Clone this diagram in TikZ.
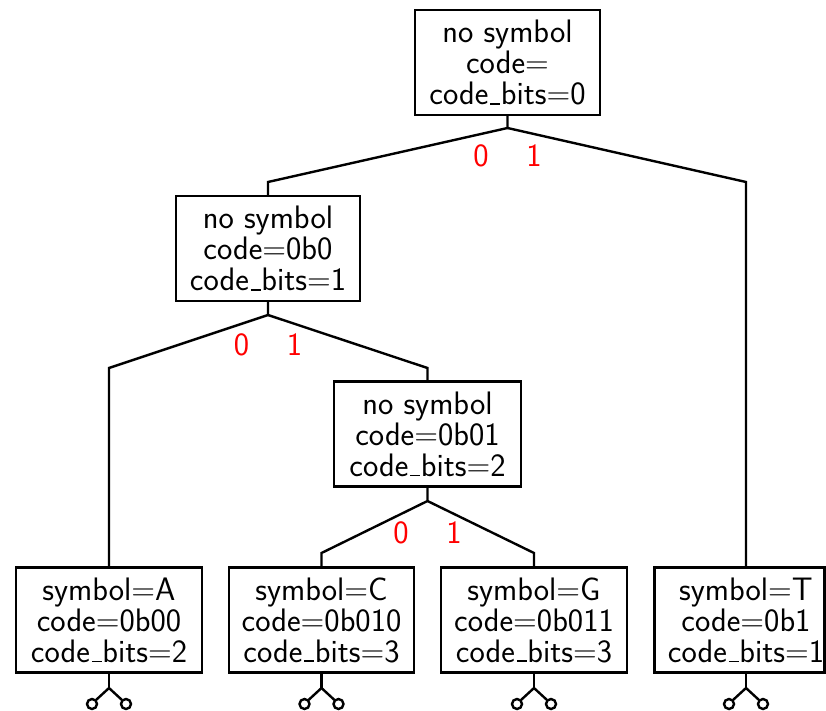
\documentclass[tikz,border=0pt]{standalone}
\usepackage{fontspec}
\newcommand{\us}{\kern.06em\vbox{\hrule width .3em height 1.6pt}\kern.02em}
\begin{document}
\begin{tikzpicture}[x=1pt,y=-1pt,line width=2.4pt,
  box/.style={draw,inner sep=0pt,align=center,minimum height=105pt,
    font=\sffamily\fontsize{32.5}{31}\selectfont},
  txt/.style={inner sep=0pt,align=center,font=\sffamily\fontsize{32.5}{31}\selectfont},
  bit/.style={text=red,inner sep=0pt,font=\sffamily\fontsize{32.5}{31}\selectfont},
  edge/.style={line join=miter}]
\useasboundingbox (0,0) rectangle (826,711);
% nodes
\node[box,minimum width=185pt] (root) at (507.5,62.5) {no symbol\\code=\\code\us bits=0};
\node[box,minimum width=184pt] (n0) at (268,248.5) {no symbol\\code=0b0\\code\us bits=1};
\node[box,minimum width=187pt] (n01) at (427.5,434) {no symbol\\code=0b01\\code\us bits=2};
\node[box,minimum width=186pt] (A) at (109,620) {symbol=A\\code=0b00\\code\us bits=2};
\node[box,minimum width=185pt] (C) at (321.5,620) {symbol=C\\code=0b010\\code\us bits=3};
\node[box,minimum width=186pt] (G) at (534,620) {symbol=G\\code=0b011\\code\us bits=3};
\node[draw,inner sep=0pt,minimum width=170pt,minimum height=105pt] (Tbox) at (739.5,620) {};
\node[txt] (T) at (746,620) {symbol=T\\code=0b1\\code\us bits=1};
% junction coordinates
\coordinate (jr) at (507.5,128);
\coordinate (j0) at (268,315);
\coordinate (j01) at (427.5,501);
% connectors
\draw[edge] (root.south) -- (jr) -- (268,182) -- (n0.north);
\draw[edge] (jr) -- (746,182) -- (T.north |- Tbox.north);
\draw[edge] (n0.south) -- (j0) -- (109,368) -- (A.north);
\draw[edge] (j0) -- (427.5,368) -- (n01.north);
\draw[edge] (n01.south) -- (j01) -- (321.5,553) -- (C.north);
\draw[edge] (j01) -- (534,553) -- (G.north);
% bit labels
\node[bit] (r0) at (481,156) {0};
\node[bit] (r1) at (534,156) {1};
\node[bit] (a0) at (241.5,345) {0};
\node[bit] (a1) at (294.5,345) {1};
\node[bit] (b0) at (401,533) {0};
\node[bit] (b1) at (454,533) {1};
% forks
\foreach \n/\x in {A/109,C/321.5,G/534,T/746}{
  \coordinate (\n f) at (\x,688);
  \draw (\x,673) -- (\n f);
  \draw (\n f) -- ++(-13,12);
  \draw (\n f) -- ++(13,12);
  \draw (\x-17,704) circle (5);
  \draw (\x+17,704) circle (5);
}
\end{tikzpicture}
\end{document}
